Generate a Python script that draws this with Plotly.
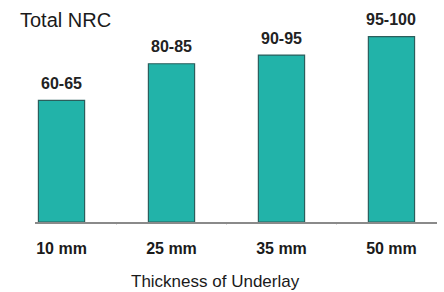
import plotly.graph_objects as go

categories = ["10 mm", "25 mm", "35 mm", "50 mm"]
values = [63, 82, 86.5, 96]
labels = ["60-65", "80-85", "90-95", "95-100"]

FONT = "Liberation Sans, Arial"

fig = go.Figure()
fig.add_trace(go.Bar(
    x=list(range(len(categories))),
    y=values,
    width=0.42,
    marker=dict(color="#22b3a9", line=dict(color="#2b5e5c", width=1.2)),
    hoverinfo="skip",
))

for i, (v, lab) in enumerate(zip(values, labels)):
    fig.add_annotation(x=i, y=v, text="<b>%s</b>" % lab, showarrow=False,
                       yanchor="middle", yshift=17,
                       font=dict(family=FONT, size=16, color="#222222"))

# chart title (top-left)
fig.add_annotation(x=-0.042, y=1.047, xref="paper", yref="paper", text="Total NRC",
                   showarrow=False, xanchor="left", yanchor="middle",
                   font=dict(family=FONT, size=20, color="#1a1a1a"))

# x-axis title
fig.add_annotation(x=0.45, y=-0.306, xref="paper", yref="paper", text="Thickness of Underlay",
                   showarrow=False, xanchor="center", yanchor="middle",
                   font=dict(family=FONT, size=17, color="#1a1a1a"))

fig.update_layout(
    width=444, height=292,
    margin=dict(l=35, r=7, t=29, b=70, autoexpand=False),
    paper_bgcolor="white", plot_bgcolor="white",
    showlegend=False,
    xaxis=dict(
        range=[-0.241, 3.414],
        tickmode="array",
        tickvals=list(range(len(categories))),
        ticktext=["<b>%s</b>" % c for c in categories],
        tickfont=dict(family=FONT, size=16, color="#1a1a1a"),
        showline=True, linecolor="#8a8a8a", linewidth=2,
        ticks="", showgrid=False, zeroline=False,
        ticklabelstandoff=11,
        automargin=False,
    ),
    yaxis=dict(range=[0, 100], visible=False, showgrid=False, zeroline=False,
               automargin=False),
)

# small ticks between categories
for xm in [0.5, 1.5, 2.5]:
    fig.add_shape(type="line", x0=xm, x1=xm, xref="x", yref="paper", y0=0, y1=-0.012,
                  line=dict(color="#8a8a8a", width=1))

fig.write_html("out.html", config={"displayModeBar": False},
               post_script="document.body.style.margin='0';")
